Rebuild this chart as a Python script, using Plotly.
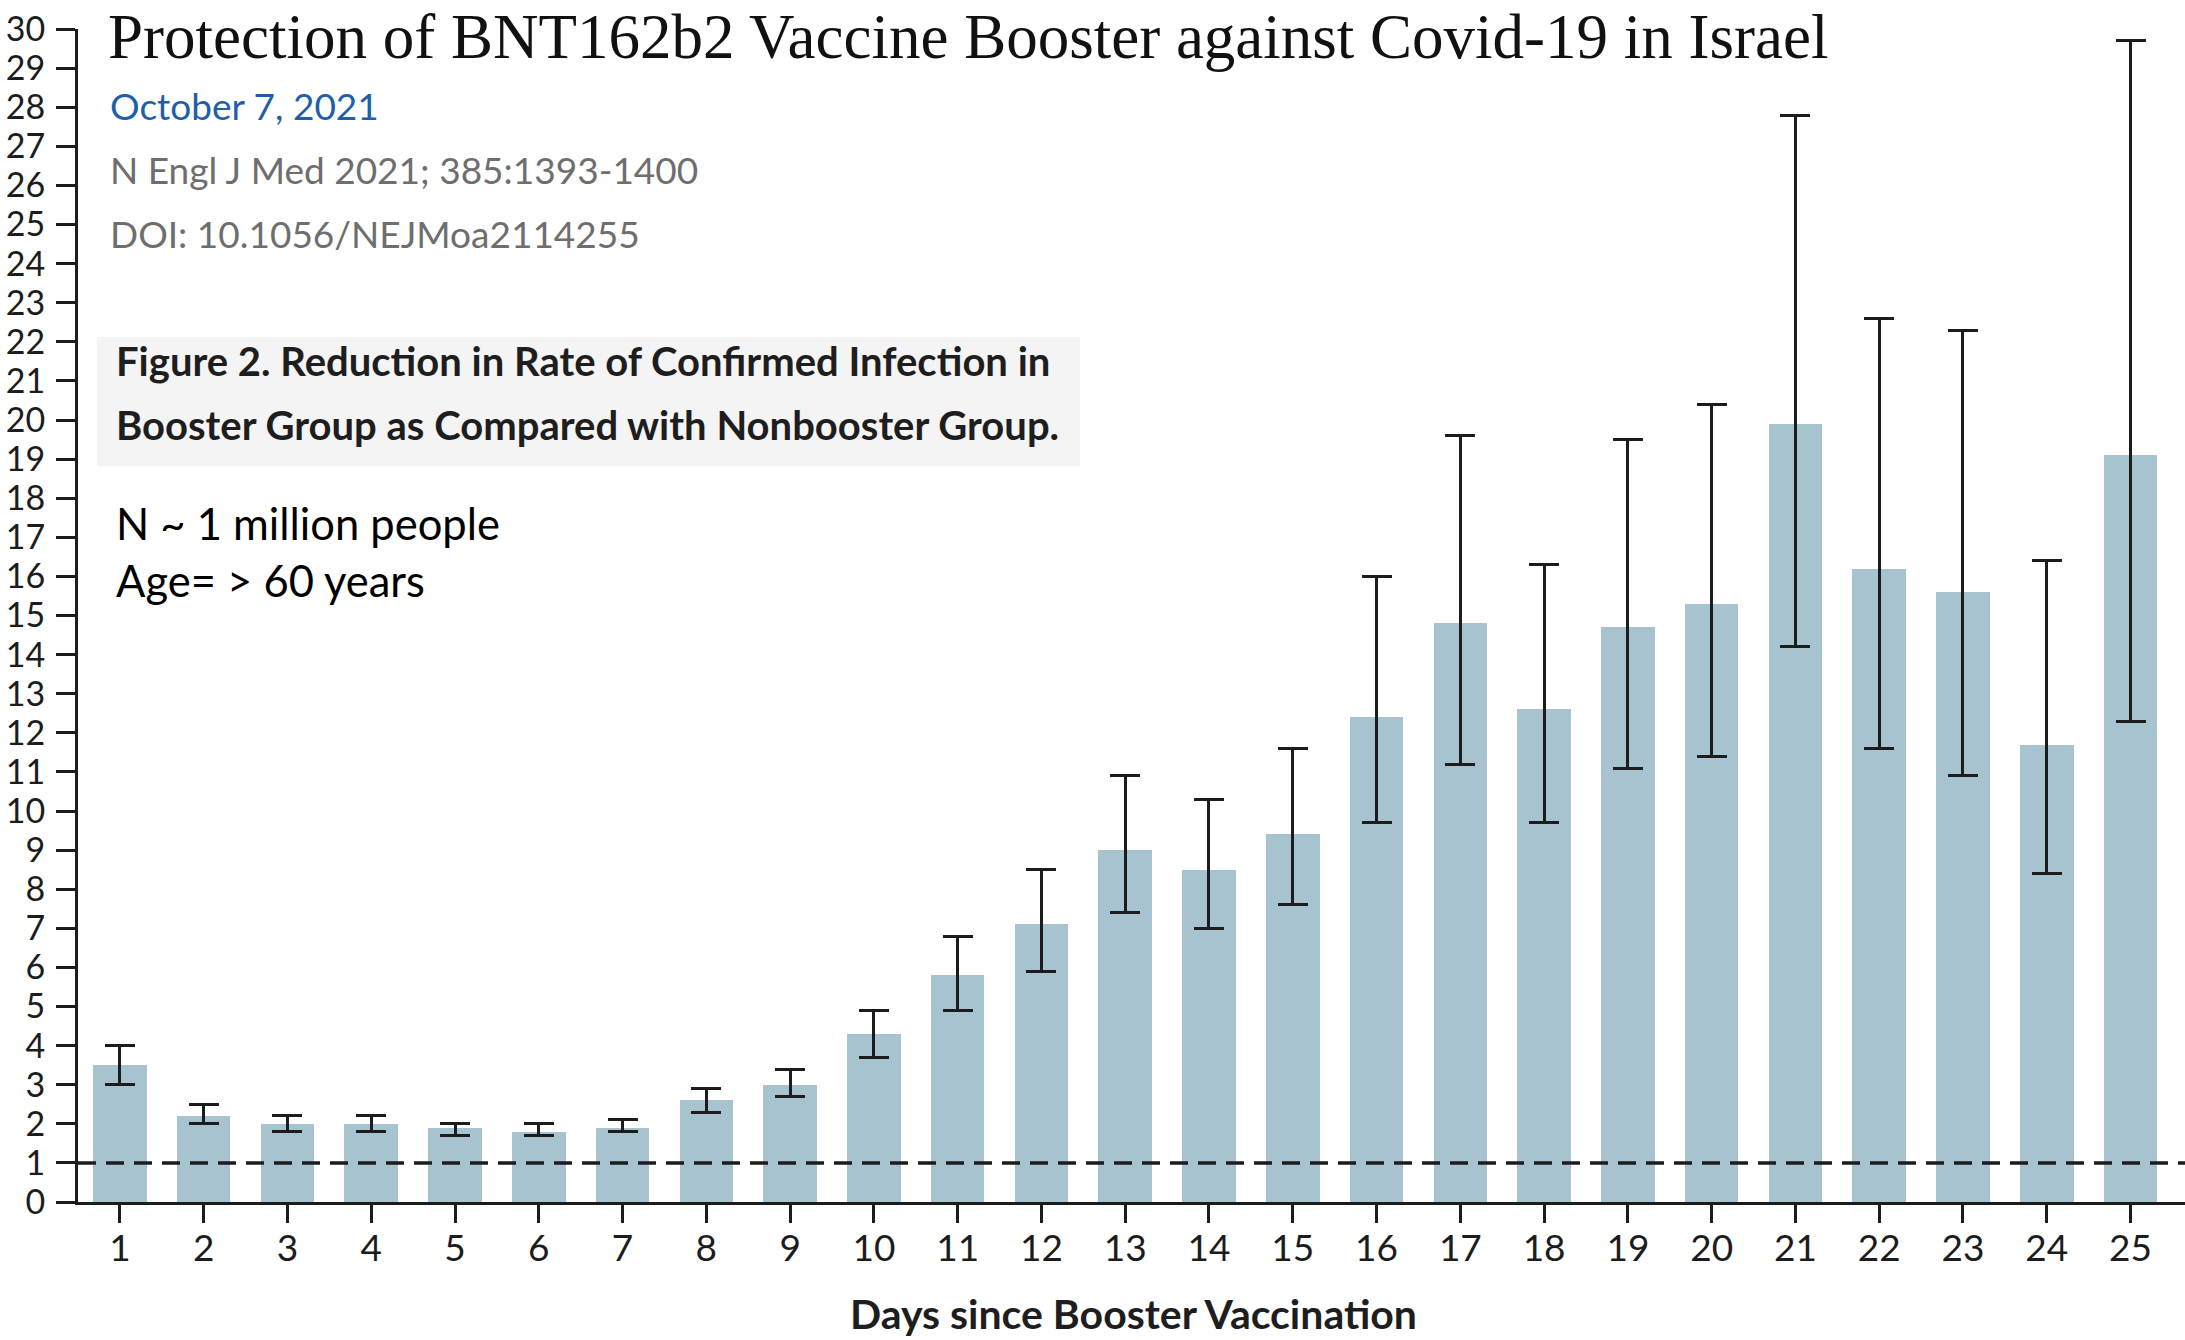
import plotly.graph_objects as go

# ---- data ----
days = list(range(1, 26))
rate_ratio = [3.5, 2.2, 2.0, 2.0, 1.9, 1.8, 1.9, 2.6, 3.0, 4.3,
              5.8, 7.1, 9.0, 8.5, 9.4, 12.4, 14.8, 12.6, 14.7, 15.3,
              19.9, 16.2, 15.6, 11.7, 19.1]
ci_upper = [4.0, 2.5, 2.2, 2.2, 2.0, 2.0, 2.1, 2.9, 3.4, 4.9,
            6.8, 8.5, 10.9, 10.3, 11.6, 16.0, 19.6, 16.3, 19.5, 20.4,
            27.8, 22.6, 22.3, 16.4, 29.7]
ci_lower = [3.0, 2.0, 1.8, 1.8, 1.7, 1.7, 1.8, 2.3, 2.7, 3.7,
            4.9, 5.9, 7.4, 7.0, 7.6, 9.7, 11.2, 9.7, 11.1, 11.4,
            14.2, 11.6, 10.9, 8.4, 12.3]
y_ticks = list(range(0, 31))
reference_level = 1

title_text = "Protection of BNT162b2 Vaccine Booster against Covid-19 in Israel"
date_text = "October 7, 2021"
journal_text = "N Engl J Med 2021; 385:1393-1400"
doi_text = "DOI: 10.1056/NEJMoa2114255"
fig_caption = ["Figure 2. Reduction in Rate of Confirmed Infection in",
               "Booster Group as Compared with Nonbooster Group."]
notes = ["N ~ 1 million people", "Age= > 60 years"]
x_title = "Days since Booster Vaccination"

# ---- layout geometry (page pixels; body margin removed below) ----
PAGE_W, PAGE_H = 2185, 1340
W, H = PAGE_W, PAGE_H
PLOT_L, PLOT_T, PLOT_B = 78, 29, 1202        # page coords of plot area
L, R, T, B = PLOT_L, 0, PLOT_T, PAGE_H - PLOT_B
PW = W - L - R
PH = H - T - B


def px(xp):
    return (xp - PLOT_L) / PW


def py(yp):
    return (PLOT_B - yp) / PH


BAR = "#a8c3d0"
INK = "#1c1c1c"
SANS = "Lato, 'Open Sans', sans-serif"

fig = go.Figure()
fig.add_trace(go.Bar(
    x=days, y=rate_ratio, width=0.64,
    marker=dict(color=BAR, line=dict(width=0)),
    error_y=dict(type="data", symmetric=False,
                 array=[u - v for u, v in zip(ci_upper, rate_ratio)],
                 arrayminus=[v - l for v, l in zip(rate_ratio, ci_lower)],
                 color=INK, thickness=3, width=15),
    hoverinfo="skip",
))

fig.add_shape(type="line", xref="paper", yref="y", x0=0, x1=1,
              y0=reference_level, y1=reference_level,
              line=dict(color=INK, width=3.5, dash="18px,10px"))

# caption box
fig.add_shape(type="rect", xref="paper", yref="paper",
              x0=px(97), x1=px(1080), y0=py(466), y1=py(337),
              fillcolor="#f4f4f4", line=dict(width=0), layer="below")

ann = []
ann.append(dict(text=title_text, x=px(106), y=py(0), xanchor="left", yanchor="top",
                font=dict(family="'Liberation Serif', 'DejaVu Serif', serif", size=63, color="#111111")))
ann.append(dict(text=date_text, x=px(108), y=py(106), xanchor="left", yanchor="middle",
                font=dict(family=SANS, size=37, color="#1f5ea8")))
ann.append(dict(text=journal_text, x=px(108), y=py(170), xanchor="left", yanchor="middle",
                font=dict(family=SANS, size=37, color="#6e6e6e")))
ann.append(dict(text=doi_text, x=px(108), y=py(234), xanchor="left", yanchor="middle",
                font=dict(family=SANS, size=37, color="#6e6e6e")))
for txt, yc in zip(fig_caption, [361, 425]):
    ann.append(dict(text="<b>" + txt + "</b>", x=px(114), y=py(yc), xanchor="left", yanchor="middle",
                    font=dict(family=SANS, size=40, color="#1e1e1e")))
for txt, yc in zip(notes, [523, 580]):
    ann.append(dict(text=txt, x=px(114), y=py(yc), xanchor="left", yanchor="middle",
                    font=dict(family=SANS, size=43.5, color="#000000")))
ann.append(dict(text="<b>" + x_title + "</b>", x=px(1133), y=py(PAGE_H), xanchor="center", yanchor="bottom",
                font=dict(family=SANS, size=41, color="#1e1e1e")))
for a in ann:
    a.update(xref="paper", yref="paper", showarrow=False)

fig.update_layout(
    width=W, height=H,
    margin=dict(l=L, r=R, t=T, b=B, pad=0),
    paper_bgcolor="white", plot_bgcolor="white",
    showlegend=False, bargap=0,
    annotations=ann,
    xaxis=dict(range=[0.5, 25.65], tickmode="array", tickvals=days,
               ticktext=[str(d) for d in days],
               showline=True, linecolor=INK, linewidth=3,
               ticks="outside", ticklen=18, tickwidth=3, tickcolor=INK,
               showgrid=False, zeroline=False, ticklabelstandoff=-6,
               tickfont=dict(family=SANS, size=37, color=INK), fixedrange=True),
    yaxis=dict(range=[0, 30.0005], tickmode="array", tickvals=y_ticks,
               ticktext=[str(v) for v in y_ticks],
               showline=True, linecolor=INK, linewidth=3,
               ticks="outside", ticklen=19, tickwidth=3, tickcolor=INK,
               showgrid=False, zeroline=False, ticklabelstandoff=4,
               ticklabeloverflow="allow",
               tickfont=dict(family=SANS, size=34, color=INK), fixedrange=True),
)

fig.write_html("out.html", config={"displayModeBar": False},
               post_script="document.body.style.margin='0';document.body.style.overflow='hidden';")
